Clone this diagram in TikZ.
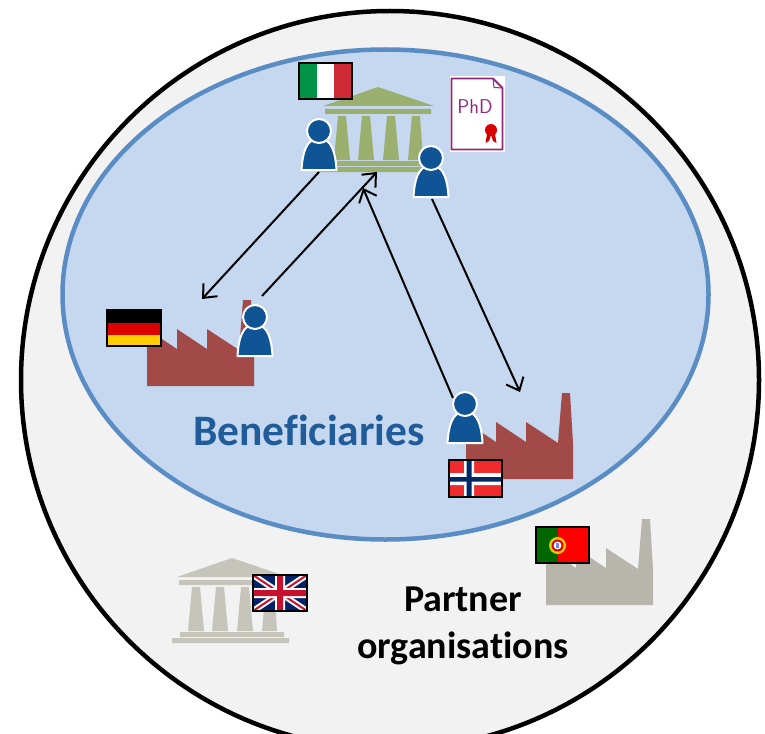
\documentclass[tikz,border=0pt]{standalone}
\usepackage{fontspec}
\setmainfont{Carlito}[Ligatures=CommonOff]
\usetikzlibrary{arrows.meta}
\definecolor{discfill}{HTML}{F2F2F2}
\definecolor{ellfill}{HTML}{C5D8F0}
\definecolor{ellline}{HTML}{5B8DC5}
\definecolor{brick}{HTML}{A24A48}
\definecolor{stonegray}{HTML}{B8B5AD}
\definecolor{templegray}{HTML}{C6C5BC}
\definecolor{templegreen}{HTML}{9BB06F}
\definecolor{personblue}{HTML}{0F5494}
\definecolor{titleblue}{HTML}{1F5C99}
\definecolor{phdpurple}{HTML}{8F2A78}
\definecolor{itgreen}{HTML}{009246}
\definecolor{itred}{HTML}{CE2B37}
\definecolor{deyellow}{HTML}{FFCE00}
\definecolor{dered}{HTML}{DD0000}
\definecolor{nored}{HTML}{EF2B2D}
\definecolor{noblue}{HTML}{002868}
\definecolor{ptgreen}{HTML}{006600}
\definecolor{ukblue}{HTML}{012169}
\definecolor{ukred}{HTML}{C8102E}
\tikzset{
  linkarrow/.style={line width=2pt,black,-{Straight Barb[length=11pt,width=19pt,line width=2pt]}},
  flagrim/.style={draw=black,line width=2.4pt},
  titletext/.style={font=\fontsize{43.5}{48}\selectfont\bfseries,text=titleblue,inner sep=0pt},
  partnertext/.style={font=\fontsize{38}{47}\selectfont\bfseries,text=black,align=center,inner sep=0pt},
  persondraw/.style={fill=personblue,draw=white,line width=2pt,line join=round},
}
% factory: #1 x-offset, #2 y-offset, #3 colour (origin = lower-left corner)
\newcommand\factorypic[3]{%
  \fill[#3,shift={(#1,#2)}] (0,0) -- (0,-57) -- (30,-37) -- (30,-57) -- (60,-37) -- (60,-57)
     -- (92,-36) -- (96,-86) -- (104,-86) -- (107,-36) -- (107,0) -- cycle;}
% temple: #1,#2 apex, #3 colour
\newcommand\templepic[3]{%
  \fill[#3,shift={(#1,#2)}]
    (0,0) -- (56,19) -- (-55,19) -- cycle
    (-53,22) rectangle (53,27)
    (-44,73) -- (-40,29) -- (-32,29) -- (-28,73) -- cycle
    (-20,73) -- (-16,29) -- (-8,29) -- (-4,73) -- cycle
    (5,73) -- (9,29) -- (17,29) -- (21,73) -- cycle
    (30,73) -- (34,29) -- (42,29) -- (45,73) -- cycle
    (-52,74) rectangle (52,79)
    (-60,80) rectangle (57,85);}
% person: #1 name, #2,#3 head centre
\newcommand\personpic[3]{%
  \coordinate (#1) at (#2,#3);
  \begin{scope}[shift={(#2,#3)}]
    \path[persondraw] (-17.5,39) .. controls (-16.5,22) and (-13,8) .. (0,7)
       .. controls (13,8) and (16.5,22) .. (17.5,39) -- cycle;
    \path[persondraw] (0,0) circle (12);
  \end{scope}}
\begin{document}
\begin{tikzpicture}[x=1pt,y=-1pt]
\useasboundingbox (0,0) rectangle (765,733);
\clip (0,0) rectangle (765,733);
\fill[white] (0,0) rectangle (765,733);
\draw[fill=discfill,draw=black,line width=4.5pt] (390,380) circle (369);
\draw[fill=ellfill,draw=ellline,line width=4.5pt] (385.5,294.5) ellipse [x radius=323,y radius=245];

% temples
\templepic{378}{87}{templegreen}
\templepic{232}{558}{templegray}

% PhD document
\fill[white] (449.5,76.5) rectangle (505,151.5);
\draw[phdpurple,line width=1.8pt,line join=round] (451.5,78.5) -- (493,78.5) -- (502.5,88) -- (502.5,149.5) -- (451.5,149.5) -- cycle;
\draw[phdpurple,line width=1pt,line join=round] (493,78.5) -- (494,87.5) -- (502.5,88);
\node[inner sep=0pt,text=phdpurple,font=\fontsize{20}{22}\selectfont\sffamily] (phd) at (475,107) {PhD};
\fill[red!80!black] (487,134) -- (485.5,143) -- (489,141) -- (491,135) -- (493,141) -- (496.5,143) -- (495,134) -- cycle;
\fill[red!85!black] (491,130) circle (6);

% factories
\factorypic{147}{386}{brick}
\factorypic{466}{479}{brick}
\factorypic{546}{605}{stonegray}

% connector ends
\coordinate (pastart) at (319,172);
\coordinate (pbstart) at (432,199);
\coordinate (pcstart) at (262,296);
\coordinate (pdstart) at (453,398);
\coordinate (factde) at (202,299);
\coordinate (factno) at (520,392);
\coordinate (templeone) at (377,172);
\coordinate (templetwo) at (363,188);

\draw[linkarrow] (pastart) -- (factde);
\draw[linkarrow] (pcstart) -- (templeone);
\draw[linkarrow] (pdstart) -- (templetwo);
\draw[linkarrow] (pbstart) -- (factno);

% persons
\personpic{pa}{319}{131}
\personpic{pb}{431}{158}
\personpic{pc}{255}{317}
\personpic{pd}{465}{404}

% Italy
\begin{scope}[shift={(299,63)}]
  \fill[white] (0,0) rectangle (53,36);
  \fill[itgreen] (0,0) rectangle (18,36);
  \fill[itred] (35,0) rectangle (53,36);
  \draw[flagrim] (0,0) rectangle (53,36);
\end{scope}
% Germany
\begin{scope}[shift={(107,310)}]
  \fill[black] (0,0) rectangle (54,13);
  \fill[dered] (0,13) rectangle (54,25);
  \fill[deyellow] (0,25) rectangle (54,36);
  \draw[flagrim] (0,0) rectangle (54,36);
\end{scope}
% Norway
\begin{scope}[shift={(449,460)}]
  \fill[nored] (0,0) rectangle (53,37);
  \fill[white] (15,0) rectangle (25,37) (0,13) rectangle (53,25);
  \fill[noblue] (17.5,0) rectangle (22.5,37) (0,17) rectangle (53,21.5);
  \draw[flagrim] (0,0) rectangle (53,37);
\end{scope}
% Portugal
\begin{scope}[shift={(536,527)}]
  \fill[red] (0,0) rectangle (53,36);
  \fill[ptgreen] (0,0) rectangle (22,36);
  \fill[yellow!70!olive] (21.5,18.5) circle (8.5);
  \fill[red!85!black] (21.5,18.5) circle (6);
  \fill[white] (21.5,18.5) circle (4);
  \fill[blue!50!white] (20,16) rectangle (23,21);
  \draw[flagrim] (0,0) rectangle (53,36);
\end{scope}
% United Kingdom
\begin{scope}[shift={(253,575)}]
  \begin{scope}
    \clip (0,0) rectangle (54,36);
    \fill[ukblue] (0,0) rectangle (54,36);
    \draw[white,line width=6pt] (0,0) -- (54,36) (54,0) -- (0,36);
    \draw[ukred,line width=2pt] (0,0) -- (54,36) (54,0) -- (0,36);
    \fill[white] (22,0) rectangle (32,36) (0,13) rectangle (54,23);
    \fill[ukred] (24,0) rectangle (30,36) (0,15) rectangle (54,21);
  \end{scope}
  \draw[flagrim] (0,0) rectangle (54,36);
\end{scope}

% labels
\node[titletext] (benef) at (309,430) {Beneficiaries};
\node[partnertext] (partner) at (463,626) {Partner\\organisations};
\end{tikzpicture}
\end{document}
